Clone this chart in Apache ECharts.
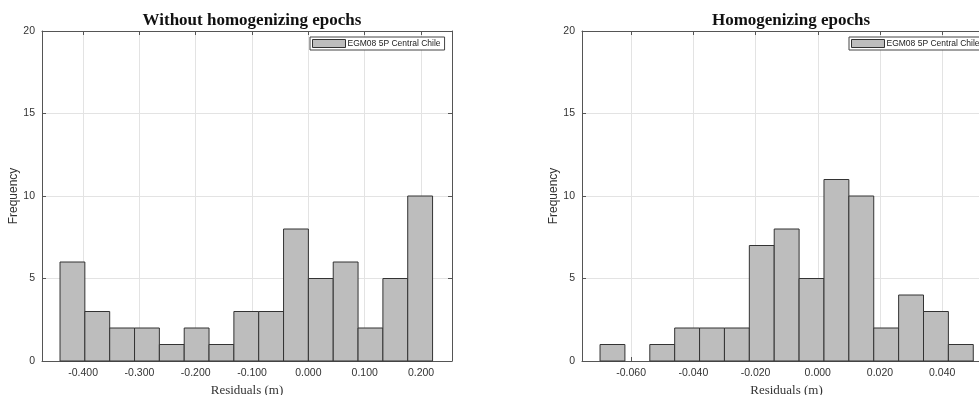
<!DOCTYPE html>
<html>
<head>
<meta charset="utf-8">
<script src="https://cdn.jsdelivr.net/npm/echarts@6/dist/echarts.min.js"></script>
<style>html,body{margin:0;padding:0;background:#fff}#c{width:979px;height:395px}</style>
</head>
<body>
<div id="c"></div>
<script>
// ---- data ----
var titles = ['Without homogenizing epochs', 'Homogenizing epochs'];
var legendName = 'EGM08 5P Central Chile';
var xName = 'Residuals (m)';
var yName = 'Frequency';
// left histogram: 15 bins
var leftBinStart = -0.441;
var leftBinWidth = 0.0441;
var leftCounts = [6, 3, 2, 2, 1, 2, 1, 3, 3, 8, 5, 6, 2, 5, 10];
var leftXMin = -0.473, leftXMax = 0.255;
// right histogram: 15 bins
var rightBinStart = -0.070;
var rightBinWidth = 0.008;
var rightCounts = [1, 0, 1, 2, 2, 2, 7, 8, 5, 11, 10, 2, 4, 3, 1];
var rightXMin = -0.0758, rightXMax = 0.0557;
var yMin = 0, yMax = 20, yInterval = 5;

function bins(start, width, counts) {
  return counts.map(function (c, i) {
    return [start + i * width, start + (i + 1) * width, c];
  });
}

var chart = echarts.init(document.getElementById('c'));
var grids = [
  {left: 42, top: 31, width: 410, height: 330, outerBoundsMode: 'none', containLabel: false},
  {left: 582, top: 31, width: 409, height: 330, outerBoundsMode: 'none', containLabel: false}
];
var ranges = [[leftXMin, leftXMax], [rightXMin, rightXMax]];
var splits = [5, 6];
var axisColor = '#555';
var labelColor = '#333';
var gridColor = '#e3e3e3';

var xAxes = [], yAxes = [];
for (var g = 0; g < 2; g++) {
  xAxes.push({
    type: 'value', gridIndex: g, position: 'bottom', min: ranges[g][0], max: ranges[g][1],
    splitNumber: splits[g],
    name: xName, nameLocation: 'middle', nameGap: 20,
    nameTextStyle: {fontFamily: 'Liberation Serif', fontSize: 13, color: '#333', verticalAlign: 'top'},
    axisLine: {show: true, onZero: false, lineStyle: {color: axisColor, width: 1}},
    axisTick: {show: true, inside: true, length: 4, lineStyle: {color: axisColor}},
    axisLabel: {show: true, showMinLabel: false, showMaxLabel: false, margin: 7,
      fontFamily: 'Liberation Sans', fontSize: 10.5, color: labelColor,
      formatter: function (v) { return v.toFixed(3); }},
    splitLine: {show: true, lineStyle: {color: gridColor, width: 1}}
  });
  xAxes.push({
    type: 'value', gridIndex: g, position: 'top', min: ranges[g][0], max: ranges[g][1],
    splitNumber: splits[g],
    axisLine: {show: true, onZero: false, lineStyle: {color: axisColor, width: 1}},
    axisTick: {show: true, inside: true, length: 4, lineStyle: {color: axisColor}},
    axisLabel: {show: false}, splitLine: {show: false}
  });
  yAxes.push({
    type: 'value', gridIndex: g, position: 'left', min: yMin, max: yMax, interval: yInterval,
    name: yName, nameLocation: 'middle', nameGap: 22, nameRotate: 90,
    nameTextStyle: {fontFamily: 'Liberation Sans', fontSize: 12, color: '#333'},
    axisLine: {show: true, onZero: false, lineStyle: {color: axisColor, width: 1}},
    axisTick: {show: true, inside: true, length: 4, lineStyle: {color: axisColor}},
    axisLabel: {margin: 7, fontFamily: 'Liberation Sans', fontSize: 10.5, color: labelColor},
    splitLine: {show: true, lineStyle: {color: gridColor, width: 1}}
  });
  yAxes.push({
    type: 'value', gridIndex: g, position: 'right', min: yMin, max: yMax, interval: yInterval,
    axisLine: {show: true, onZero: false, lineStyle: {color: axisColor, width: 1}},
    axisTick: {show: true, inside: true, length: 4, lineStyle: {color: axisColor}},
    axisLabel: {show: false}, splitLine: {show: false}
  });
}

function renderBar(params, api) {
  var y = api.value(2);
  if (!y) return null;
  var p0 = api.coord([api.value(0), y]);
  var p1 = api.coord([api.value(1), 0]);
  return {
    type: 'rect',
    shape: {x: p0[0], y: p0[1], width: p1[0] - p0[0], height: p1[1] - p0[1]},
    style: {fill: '#bdbdbd', stroke: '#333', lineWidth: 1}
  };
}

function legendAt(x) {
  return {data: [{name: legendName, icon: 'rect'}], left: x, top: 37, orient: 'horizontal',
    itemWidth: 33, itemHeight: 8, itemGap: 2, padding: [2, 4, 2, 2],
    borderColor: '#444', borderWidth: 1, backgroundColor: '#fff',
    itemStyle: {color: '#bdbdbd', borderColor: '#333', borderWidth: 1},
    textStyle: {fontFamily: 'Liberation Sans', fontSize: 8.5, color: '#222', padding: [0, 0, 0, -3]},
    selectedMode: false};
}

var titleStyle = {fontFamily: 'Liberation Serif', fontWeight: 'bold', fontSize: 17, color: '#111'};
var option = {
  backgroundColor: '#fff',
  animation: false,
  title: [
    {text: titles[0], left: 247, top: 7, textAlign: 'center', textStyle: titleStyle},
    {text: titles[1], left: 786, top: 7, textAlign: 'center', textStyle: titleStyle}
  ],
  legend: [legendAt(310), legendAt(849)],
  grid: grids,
  xAxis: xAxes,
  yAxis: yAxes,
  series: [
    {type: 'custom', name: legendName, xAxisIndex: 0, yAxisIndex: 0,
      itemStyle: {color: '#bdbdbd', borderColor: '#333'},
      renderItem: renderBar, encode: {x: [0, 1], y: 2},
      data: bins(leftBinStart, leftBinWidth, leftCounts)},
    {type: 'custom', name: legendName, xAxisIndex: 2, yAxisIndex: 2,
      itemStyle: {color: '#bdbdbd', borderColor: '#333'},
      renderItem: renderBar, encode: {x: [0, 1], y: 2},
      data: bins(rightBinStart, rightBinWidth, rightCounts)}
  ]
};
chart.setOption(option);
</script>
</body>
</html>
